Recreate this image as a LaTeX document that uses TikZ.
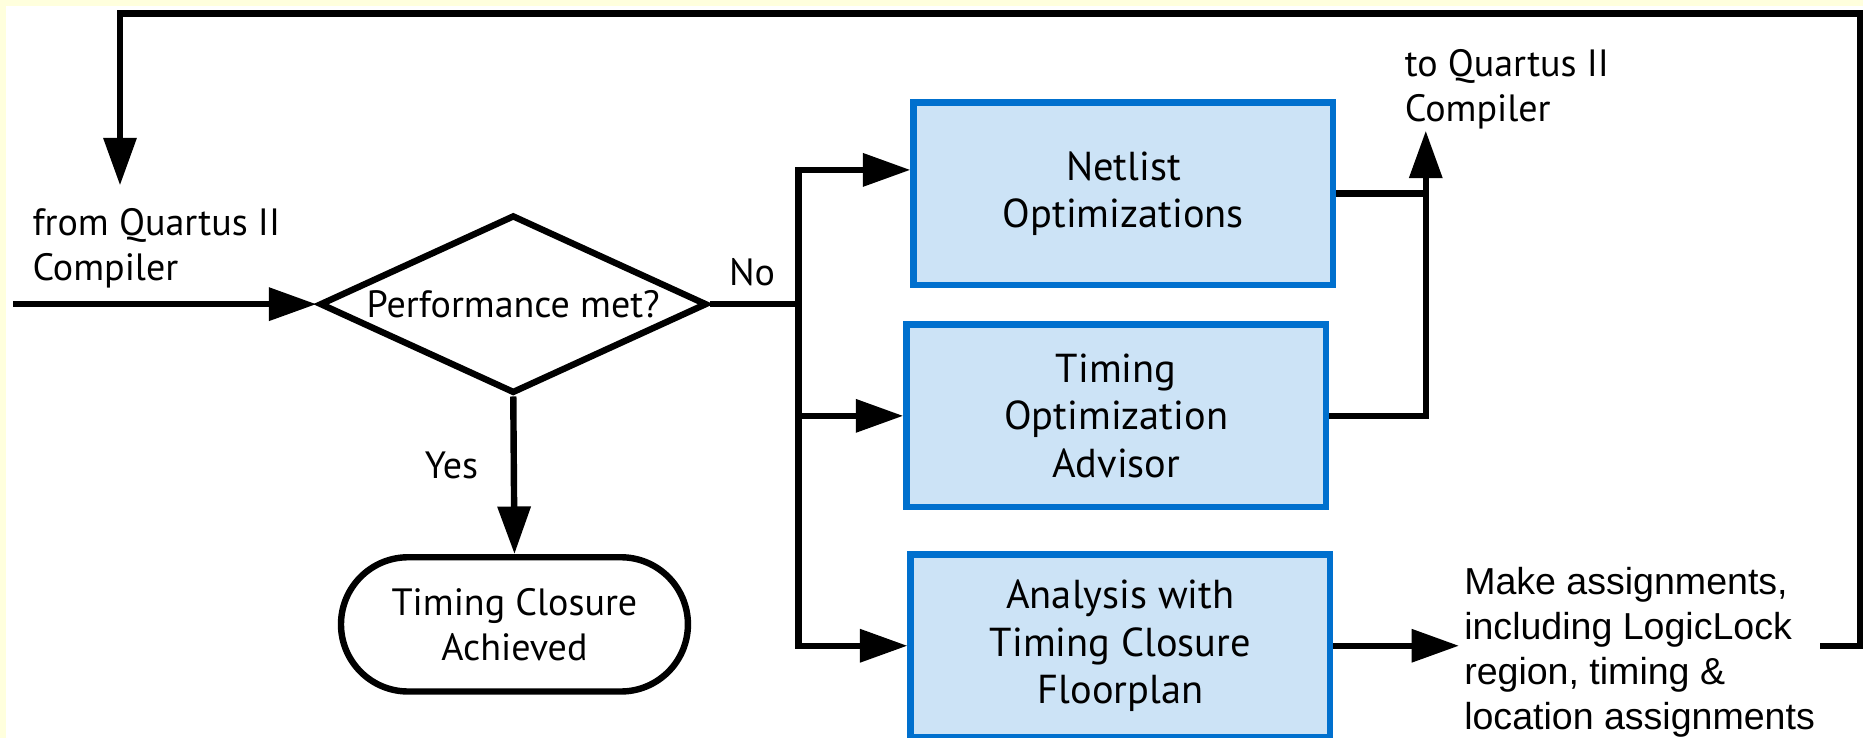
\documentclass[tikz,border=0pt]{standalone}
\usepackage{fontspec}
\setmainfont{PT Sans}
\newfontfamily\mafont{Liberation Sans}
\usetikzlibrary{shapes.geometric,shapes.misc,arrows.meta}
\definecolor{cream}{RGB}{255,255,221}
\definecolor{boxblue}{RGB}{0,112,206}
\definecolor{boxfill}{RGB}{204,227,246}
\begin{document}
\begin{tikzpicture}[x=0.5pt,y=-0.5pt,
  line/.style={line width=2.7pt, draw=black},
  arr/.style={line, -{Triangle[length=20pt,width=13.5pt]}},
  procbox/.style={draw=boxblue, fill=boxfill, line width=2.75pt, minimum width=176.5pt, minimum height=76.75pt, align=center, inner sep=0pt, font=\fontsize{17pt}{20pt}\selectfont},
  lbl/.style={inner sep=0pt, font=\fontsize{16pt}{19pt}\selectfont},
]
\useasboundingbox (0,0) rectangle (1568,621);
\fill[cream] (0,0) rectangle (1568,621);
\fill[white] (5,5) rectangle (1568,621);

% nodes
\node[diamond, aspect=2.15, draw, line width=2.7pt, minimum width=163pt, minimum height=75pt, inner sep=0pt, font=\fontsize{16pt}{19pt}\selectfont] (D) at (432,256) {Performance met?};
\node[rounded rectangle, draw, line width=2.7pt, minimum width=146pt, minimum height=56.5pt, align=center, inner sep=0pt, font=\fontsize{16pt}{19pt}\selectfont] (T) at (433,525.5) {Timing Closure\\Achieved};
\node[procbox] (N) at (945.5,163) {Netlist\\Optimizations};
\node[procbox] (A) at (939.5,350) {Timing\\Optimization\\Advisor};
\node[procbox] (F) at (943,543.5) {Analysis with\\Timing Closure\\Floorplan};

\node[lbl, anchor=west, align=left] (from) at (27,209) {from Quartus II\\Compiler};
\node[lbl, anchor=west, align=left] (to) at (1182,75) {to Quartus II\\Compiler};
\node[lbl] (no) at (633,229) {No};
\node[lbl] (yes) at (380,392) {Yes};
\node[anchor=west, align=left, inner sep=2pt, font=\mafont\fontsize{15.8pt}{19pt}\selectfont] (M) at (1228,549) {Make assignments,\\including LogicLock\\region, timing \&\\location assignments};

% coordinates
\coordinate (in) at (11,256);
\coordinate (J) at (672,256);
\coordinate (Jt) at (672,143);
\coordinate (R) at (1200,110);
\coordinate (fbR) at (1566,543.5);
\coordinate (fbTR) at (1566,11.5);
\coordinate (fbTL) at (101,11.5);
\coordinate (fbD) at (101,156);

% connectors
\draw[arr] (in) -- (D.west);
\draw[line] (D.east) -- (J);
\draw[arr] (J) |- (N.west |- Jt);
\draw[arr] (J) |- (A.west);
\draw[arr] (J) |- (F.west);
\draw[arr] (D.south) -- (T.north);
\draw[line] (N.east) -- (N.east -| R);
\draw[arr] (A.east) -| (R);
\draw[arr] (F.east) -- (F.east -| M.west);
\draw[arr] (M.east |- F.east) -- (fbR) -- (fbTR) -- (fbTL) -- (fbD);
\end{tikzpicture}
\end{document}
